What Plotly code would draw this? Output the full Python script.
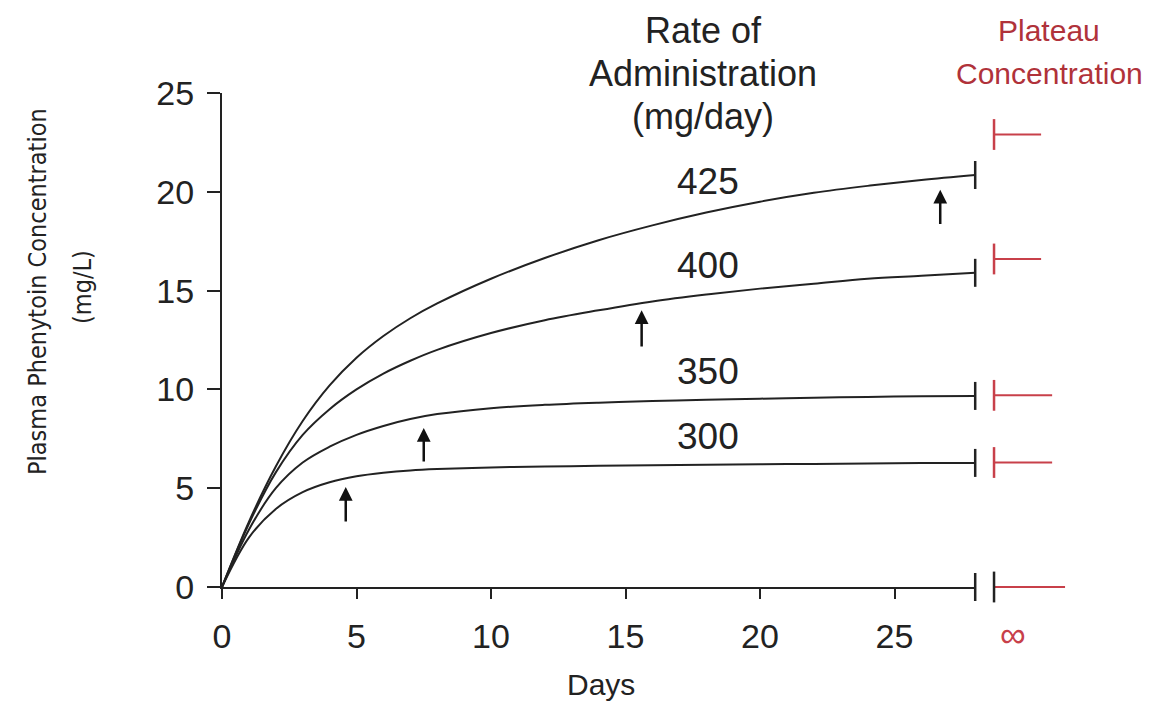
import plotly.graph_objects as go

# ---------------- data ----------------
days = [0, 1, 2, 3, 4, 5, 6, 7, 8, 10, 12, 14, 16, 18, 20, 22, 24, 26, 28]
rates = ["425", "400", "350", "300"]
conc_425 = [0, 3.3, 6.1, 8.4, 10.2, 11.6, 12.7, 13.6, 14.35, 15.6, 16.65, 17.55, 18.3, 18.95, 19.5, 19.95, 20.3, 20.6, 20.85]
conc_400 = [0, 3.2, 5.8, 7.7, 9.0, 10.0, 10.8, 11.45, 12.0, 12.85, 13.5, 14.0, 14.45, 14.8, 15.1, 15.35, 15.6, 15.75, 15.9]
conc_350 = [0, 2.9, 5.0, 6.3, 7.1, 7.7, 8.15, 8.5, 8.75, 9.05, 9.22, 9.33, 9.41, 9.48, 9.53, 9.58, 9.62, 9.65, 9.67]
conc_300 = [0, 2.5, 3.95, 4.8, 5.3, 5.6, 5.78, 5.9, 5.97, 6.05, 6.1, 6.13, 6.16, 6.19, 6.21, 6.23, 6.25, 6.27, 6.28]
series = [conc_425, conc_400, conc_350, conc_300]

plateau_levels = [22.9, 16.6, 9.7, 6.3, 0.0]          # red plateau markers (last = infinity baseline)
plateau_start = 28.7
plateau_end = [30.45, 30.45, 30.86, 30.86, 31.34]
end_day = 28

# arrows: day, tip concentration, tail concentration
arrow_day = [26.7, 15.6, 7.5, 4.6]
arrow_tip = [20.1, 14.0, 8.05, 5.06]
arrow_tail = [18.3, 12.1, 6.28, 3.24]

label_day = 18.07
label_conc = [20.5, 16.25, 10.9, 7.6]

x_ticks = [0, 5, 10, 15, 20, 25]
y_ticks = [0, 5, 10, 15, 20, 25]

# ---------------- layout geometry ----------------
W, H = 1153, 701
L, R, T, B = 222, 68, 93, 101
PW = W - L - R
PH = H - T - B
PX_PER_DAY = 26.9
PX_PER_UNIT = (587 - T) / 25.0
x1_end = end_day * PX_PER_DAY / PW
x2_start_px = 980
x2_lo = end_day + (x2_start_px - (L + end_day * PX_PER_DAY)) / PX_PER_DAY
x2_hi = x2_lo + (W - R - x2_start_px) / PX_PER_DAY
y_dom0 = (H - B - 587) / PH
y2_lo = -(H - B - 587) / PX_PER_UNIT


def px(xp):
    return (xp - L) / PW


def py(yp):
    return (H - B - yp) / PH


INK = "#222222"
RED = "#c8404a"
RED_TXT = "#b0323a"
FONT = "Liberation Sans, Arial, sans-serif"
NARROW = "DejaVu Sans Condensed, Liberation Sans Narrow, sans-serif"

fig = go.Figure()

for vals in series:
    fig.add_trace(go.Scatter(x=days, y=vals, mode="lines", xaxis="x", yaxis="y",
                             line=dict(color=INK, width=2, shape="spline", smoothing=1.0),
                             hoverinfo="skip", showlegend=False))

# break ticks at the end of each curve and on the x axis
end_vals = [s[-1] for s in series] + [0]
fig.add_trace(go.Scatter(x=[end_day] * len(end_vals), y=end_vals, mode="markers",
                         xaxis="x", yaxis="y", cliponaxis=False,
                         marker=dict(symbol="line-ns", size=20, line=dict(color=INK, width=2.5)),
                         hoverinfo="skip", showlegend=False))

# plateau markers (right panel)
for i, lvl in enumerate(plateau_levels):
    col = INK if lvl == 0 else RED
    fig.add_trace(go.Scatter(x=[plateau_start, plateau_end[i]], y=[lvl, lvl], mode="lines",
                             xaxis="x2", yaxis="y2", line=dict(color=RED, width=2),
                             hoverinfo="skip", showlegend=False))
    fig.add_trace(go.Scatter(x=[plateau_start], y=[lvl], mode="markers",
                             xaxis="x2", yaxis="y2", cliponaxis=False,
                             marker=dict(symbol="line-ns", size=22, line=dict(color=col, width=2.5)),
                             hoverinfo="skip", showlegend=False))

annotations = []
for d, tip, tail in zip(arrow_day, arrow_tip, arrow_tail):
    annotations.append(dict(x=d, y=tip, ax=d, ay=tail, xref="x", yref="y", axref="x", ayref="y",
                            text="", showarrow=True, arrowhead=2, arrowsize=1.1,
                            arrowwidth=2.5, arrowcolor="#111111"))
for r, c in zip(rates, label_conc):
    annotations.append(dict(x=label_day, y=c, xref="x", yref="y", text=r, showarrow=False,
                            font=dict(family=FONT, size=37, color=INK)))

for txt, yy in [("Rate of", 30), ("Administration", 73), ("(mg/day)", 116)]:
    annotations.append(dict(x=px(703), y=py(yy), xref="paper", yref="paper", text=txt,
                            showarrow=False, xanchor="center", yanchor="middle",
                            font=dict(family=FONT, size=36, color=INK)))
for txt, yy in [("Plateau", 30), ("Concentration", 73)]:
    annotations.append(dict(x=px(1049), y=py(yy), xref="paper", yref="paper", text=txt,
                            showarrow=False, xanchor="center", yanchor="middle",
                            font=dict(family=FONT, size=30, color=RED_TXT)))
annotations.append(dict(x=px(1013), y=py(634), xref="paper", yref="paper", text="∞",
                        showarrow=False, xanchor="center", yanchor="middle",
                        font=dict(family=FONT, size=36, color=RED)))
annotations.append(dict(x=px(601), y=py(684), xref="paper", yref="paper", text="Days",
                        showarrow=False, xanchor="center", yanchor="middle",
                        font=dict(family=FONT, size=30, color=INK)))

annotations.append(dict(x=px(37), y=py(292), xref="paper", yref="paper",
                        text="Plasma Phenytoin Concentration", textangle=-90, showarrow=False,
                        xanchor="center", yanchor="middle",
                        font=dict(family=NARROW, size=25, color=INK)))
annotations.append(dict(x=px(82), y=py(287), xref="paper", yref="paper",
                        text="(mg/L)", textangle=-90, showarrow=False,
                        xanchor="center", yanchor="middle",
                        font=dict(family=NARROW, size=25, color=INK)))

fig.update_layout(
    width=W, height=H,
    margin=dict(l=L, r=R, t=T, b=B, pad=0, autoexpand=False),
    paper_bgcolor="white", plot_bgcolor="white",
    showlegend=False,
    annotations=annotations,
    xaxis=dict(domain=[0, x1_end], range=[0, end_day], anchor="y", automargin=False,
               showline=True, linecolor=INK, linewidth=2, mirror=False,
               ticks="outside", ticklen=10, tickwidth=2, tickcolor=INK,
               tickvals=x_ticks, ticktext=[str(v) for v in x_ticks],
               tickfont=dict(family=FONT, size=34, color=INK),
               ticklabelstandoff=8,
               showgrid=False, zeroline=False),
    yaxis=dict(domain=[y_dom0, 1], range=[0, 25], anchor="x", automargin=False,
               showline=True, linecolor=INK, linewidth=2,
               ticks="outside", ticklen=13, tickwidth=2, tickcolor=INK,
               tickvals=y_ticks, ticktext=[str(v) for v in y_ticks],
               tickfont=dict(family=FONT, size=34, color=INK),
               ticklabelstandoff=6,
               showgrid=False, zeroline=False),
    xaxis2=dict(domain=[px(x2_start_px), 1], range=[x2_lo, x2_hi], anchor="y2",
                visible=False, automargin=False),
    yaxis2=dict(domain=[0, 1], range=[y2_lo, 25], anchor="x2", visible=False, automargin=False),
)

fig.write_html("out.html", config={"displayModeBar": False},
               post_script="document.body.style.margin='0px';document.body.style.overflow='hidden';")
